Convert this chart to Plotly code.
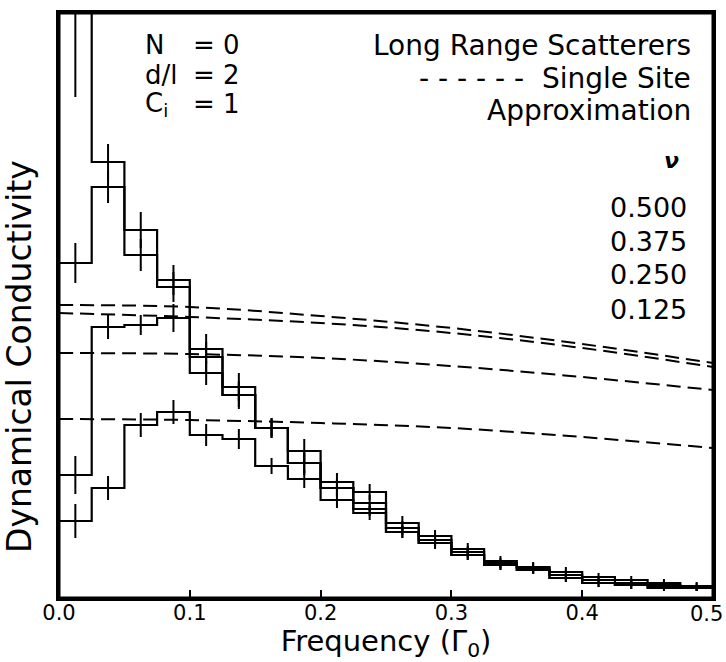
import plotly.graph_objects as go

# bin layout (frequency in units of Gamma_0)
bin_edges = [0.0, 0.025, 0.05, 0.075, 0.1, 0.125, 0.15, 0.175, 0.2, 0.225,
             0.25, 0.275, 0.3, 0.325, 0.35, 0.375, 0.4, 0.425, 0.45, 0.475, 0.5]
bin_centers = [0.0125, 0.0375, 0.0625, 0.0875, 0.1125, 0.1375, 0.1625, 0.1875, 0.2125, 0.2375,
               0.2625, 0.2875, 0.3125, 0.3375, 0.3625, 0.3875, 0.4125, 0.4375, 0.4625, 0.4875]
tick_vals = [0.0, 0.1, 0.2, 0.3, 0.4, 0.5]
tick_text = ["0.0", "0.1", "0.2", "0.3", "0.4", "0.5"]

# dynamical conductivity (arbitrary units), long range scatterers
hist_c500 = [640, 436, 368, 318, 249, 211, 170, 147, 116, 106, 75, 62, 49, 37, 31, 26, 21, 18, 15, 12]
err_c500 = [139, 18, 18, 15, 15, 14, 10, 12, 9, 8, 7, 6, 6, 5, 5, 5, 4, 4, 4, 4]
hist_c375 = [335, 411, 343, 311, 241, 203, 170, 135, 110, 95, 70, 58, 46, 35, 30, 23, 18, 15, 13, 11]
err_c375 = [20, 16, 16, 15, 15, 14, 10, 12, 9, 8, 7, 6, 6, 5, 5, 5, 4, 4, 4, 4]
hist_c250 = [123, 271, 273, 280, 225, 203, 170, 135, 110, 89, 66, 55, 43, 33, 28, 20, 15, 13, 11, 10]
err_c250 = [19, 12, 10, 14, 12, 12, 8, 10, 8, 7, 6, 6, 5, 5, 4, 4, 4, 4, 3, 3]
hist_c125 = [77, 110, 173, 186, 163, 159, 132, 119, 98, 85, 66, 55, 43, 33, 28, 20, 15, 13, 10, 10]
err_c125 = [17, 12, 12, 12, 11, 10, 8, 9, 8, 7, 6, 5, 5, 5, 4, 4, 4, 4, 3, 3]

# single site approximation curves
ssa_freq = [0.0, 0.1, 0.2, 0.3, 0.4, 0.5]
ssa_c500 = [293, 291, 282, 270, 254, 235]
ssa_c375 = [285, 281, 275, 265, 250, 231]
ssa_c250 = [245, 244, 240, 232, 221, 208]
ssa_c125 = [179, 178, 175, 170, 161, 150]

conc_labels = ["0.500", "0.375", "0.250", "0.125"]

FONT = "DejaVu Sans"
fig = go.Figure()

for vals, errs in [(hist_c500, err_c500), (hist_c375, err_c375),
                   (hist_c250, err_c250), (hist_c125, err_c125)]:
    fig.add_trace(go.Scatter(
        x=bin_edges, y=vals + [vals[-1]], mode="lines",
        line=dict(shape="hv", color="black", width=2.2),
        showlegend=False, hoverinfo="skip"))
    fig.add_trace(go.Scatter(
        x=bin_centers, y=vals, mode="markers",
        marker=dict(size=1, color="black", opacity=0),
        error_y=dict(type="data", array=errs, symmetric=True, width=0,
                     thickness=2, color="black"),
        showlegend=False, hoverinfo="skip"))

for curve in [ssa_c500, ssa_c375, ssa_c250, ssa_c125]:
    fig.add_trace(go.Scatter(
        x=ssa_freq, y=curve, mode="lines",
        line=dict(shape="spline", color="black", width=2, dash="14px,7px"),
        showlegend=False, hoverinfo="skip"))

ann_font = dict(family=FONT, size=26, color="black")
annotations = []
left_rows = [("N", "= 0", 553), ("d/l", "= 2", 523), ("C<sub>i</sub>", "= 1", 494)]
for lab, val, yy in left_rows:
    annotations.append(dict(x=0.064, y=yy, xref="x", yref="y", text=lab, showarrow=False,
                            xanchor="left", yanchor="middle", font=ann_font))
    annotations.append(dict(x=0.101, y=yy, xref="x", yref="y", text=val, showarrow=False,
                            xanchor="left", yanchor="middle", font=ann_font))
right_rows = [("Long Range Scatterers", 553), ("- - - - - -  Single Site", 520), ("Approximation", 488)]
for txt, yy in right_rows:
    annotations.append(dict(x=0.4847, y=yy, xref="x", yref="y", text=txt, showarrow=False,
                            xanchor="right", yanchor="middle", font=dict(family=FONT, size=28, color="black")))
annotations.append(dict(x=0.4686, y=438, xref="x", yref="y", text="<b><i>ν</i></b>", showarrow=False,
                        xanchor="center", yanchor="middle", font=dict(family=FONT, size=22, color="black")))
for lab, yy in zip(conc_labels, [391, 357, 324, 289]):
    annotations.append(dict(x=0.4815, y=yy, xref="x", yref="y", text=lab, showarrow=False,
                            xanchor="right", yanchor="middle", font=dict(family=FONT, size=27, color="black")))
# last x tick label, kept inside the page edge
annotations.append(dict(x=1.0, y=0, xref="paper", yref="paper", text=tick_text[-1], showarrow=False,
                        xanchor="right", yanchor="top", yshift=-2, xshift=12,
                        font=dict(family=FONT, size=21, color="black")))
# y axis title
annotations.append(dict(x=-0.0596, y=0.412, xref="paper", yref="paper", text="Dynamical Conductivity",
                        showarrow=False, textangle=-90, xanchor="center", yanchor="middle",
                        font=dict(family=FONT, size=33, color="black")))

fig.update_layout(
    width=726, height=662,
    margin=dict(l=59, r=13, t=13, b=64),
    paper_bgcolor="white", plot_bgcolor="white",
    font=dict(family=FONT, color="black"),
    annotations=annotations,
    shapes=[dict(type="rect", xref="paper", yref="paper", x0=0, x1=1, y0=0, y1=1,
                 line=dict(color="black", width=3), layer="above")],
    xaxis=dict(range=[0, 0.5], tickvals=tick_vals,
               ticktext=tick_text[:-1] + [""],
               ticks="inside", ticklen=8, tickwidth=2, tickcolor="black",
               showline=True, linewidth=3, linecolor="black", mirror=True,
               showgrid=False, zeroline=False, automargin=False,
               ticklabeloverflow="allow", ticklabelstandoff=-6,
               tickfont=dict(family=FONT, size=21, color="black"),
               title=dict(text="Frequency (Γ<sub>0</sub>)", standoff=8,
                          font=dict(family=FONT, size=29, color="black"))),
    yaxis=dict(range=[0, 585], showticklabels=False, ticks="",
               showline=True, linewidth=3, linecolor="black", mirror=True,
               showgrid=False, zeroline=False, automargin=False),
)

fig.write_html("out.html", config={"displayModeBar": False},
               post_script="document.body.style.margin='0';document.body.style.overflow='hidden';")
